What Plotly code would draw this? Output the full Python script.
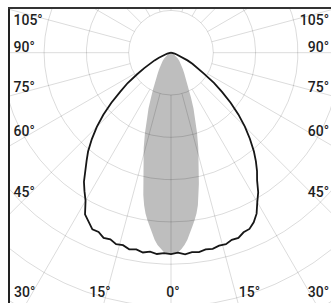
import numpy as np
import plotly.graph_objects as go

# ---- data (angle in degrees from nadir, intensity in cd) ----
black_angles = [-90, -85, -80, -75, -72.5, -70, -67.5, -65, -62.5, -60, -57.5, -55, -52.5, -50,
                -47.5, -45, -42.5, -40, -38, -36, -34, -32, -30, -28, -26, -24, -22, -20, -18,
                -16, -14, -12, -10, -8, -6, -4, -2, 0, 2, 4, 6, 8, 10, 12, 14, 16, 18, 20, 22,
                24, 26, 28, 30, 32, 34, 36, 38, 40, 42.5, 45, 47.5, 50, 52.5, 55, 57.5, 60,
                62.5, 65, 67.5, 70, 72.5, 75, 80, 85, 90]
black_values = [0, 2, 5, 9, 14, 21, 31, 43, 57, 73, 95, 125, 151, 184,
                217, 248, 277, 305, 324, 343, 368, 386, 404, 433, 445, 457, 457, 466, 464,
                471, 469, 475, 472, 477, 473, 477, 474, 476, 473, 478, 474, 476, 472, 474, 470, 471, 465, 466, 458,
                456, 446, 431, 408, 389, 364, 346, 326, 305, 276, 247, 216, 184, 152, 124, 93, 73,
                57, 43, 31, 21, 14, 9, 5, 2, 0]

grey_angles = [-90, -80, -70, -60, -55, -50, -45, -40, -36, -33, -30, -28, -26, -24, -22, -20,
               -18, -16, -14, -12, -11, -10, -9, -8, -7, -6, -5, -4, -3, -2, -1, 0,
               1, 2, 3, 4, 5, 6, 7, 8, 9, 10, 11, 12, 14, 16, 18, 20,
               22, 24, 26, 28, 30, 33, 36, 40, 45, 50, 55, 60, 70, 80, 90]
grey_values = [0, 2, 5, 9, 14, 21, 28, 38, 47, 57, 71, 83, 97, 116, 142, 165,
               199, 234, 269, 317, 343, 366, 385, 400, 414, 430, 444, 456, 465, 472, 474, 476,
               474, 472, 465, 456, 444, 430, 414, 400, 385, 366, 343, 317, 269, 234, 199, 165,
               142, 116, 97, 83, 71, 57, 47, 38, 28, 21, 14, 9, 5, 2, 0]

grid_radii = [100, 200, 300, 400, 500, 600, 700, 800]
spoke_angles = list(range(0, 360, 15))

left_labels = ["105°", "90°", "75°", "60°", "45°"]
right_labels = ["105°", "90°", "75°", "60°", "45°"]
bottom_labels = ["30°", "15°", "0°", "15°", "30°"]

# ---- geometry helpers ----
K = 100 / 42.3           # cd per pixel
CX, CY = 171, 52.7       # pole position in figure pixels


def to_xy(angles, values):
    a = np.radians(np.asarray(angles, dtype=float))
    r = np.asarray(values, dtype=float)
    return r * np.sin(a), -r * np.cos(a)


def px(x, y):
    """figure pixel -> data coordinates"""
    return (x - CX) * K, (CY - y) * K


fig = go.Figure()

# grey distribution (filled)
gx, gy = to_xy(grey_angles, grey_values)
fig.add_trace(go.Scatter(x=gx, y=gy, mode="lines", fill="toself",
                         fillcolor="rgb(190,190,190)", line=dict(width=0),
                         hoverinfo="skip"))

# grid circles
t = np.linspace(0, 360, 721)
for rr in grid_radii:
    cx, cy = to_xy(t, np.full_like(t, rr))
    fig.add_trace(go.Scatter(x=cx, y=cy, mode="lines",
                             line=dict(color="rgba(0,0,0,0.14)", width=1),
                             hoverinfo="skip"))
# spokes
for ang in spoke_angles:
    sx, sy = to_xy([ang, ang], [grid_radii[0], 1000])
    fig.add_trace(go.Scatter(x=sx, y=sy, mode="lines",
                             line=dict(color="rgba(0,0,0,0.14)", width=1),
                             hoverinfo="skip"))

# black distribution
bx, by = to_xy(black_angles, black_values)
fig.add_trace(go.Scatter(x=bx, y=by, mode="lines",
                         line=dict(color="#161616", width=1.8),
                         hoverinfo="skip"))

# labels (text traces so that the anchoring is exact)
font = dict(family="Roboto, Liberation Sans, Arial, sans-serif",
            size=14, color="#1e1e1e", weight=500)
label_y = [21, 48.5, 88.5, 132, 193.5]


def add_text(labels, xs, ys, pos):
    pts = [px(x, y) for x, y in zip(xs, ys)]
    fig.add_trace(go.Scatter(x=[p[0] for p in pts], y=[p[1] for p in pts],
                             mode="text", text=labels, textposition=pos,
                             textfont=font, cliponaxis=False, hoverinfo="skip"))


add_text(left_labels, [13.5] * 5, label_y, "middle right")
add_text(right_labels, [329] * 5, label_y, "middle left")
add_text(bottom_labels[:1], [14], [293], "middle right")
add_text(bottom_labels[1:4], [100, 173, 249.5], [293] * 3, "middle center")
add_text(bottom_labels[4:], [329], [293], "middle left")

W, H = 331, 303
ML, MT = 10, 9
xr = [(ML - CX) * K, (W - CX) * K]
yr = [(CY - H) * K, (CY - MT) * K]
fig.update_layout(
    width=W, height=H,
    margin=dict(l=ML, r=0, t=MT, b=0),
    paper_bgcolor="white", plot_bgcolor="white",
    showlegend=False,
    hovermode=False,
    xaxis=dict(range=xr, side="top", showline=True, linecolor="#333", linewidth=2,
               showgrid=False, zeroline=False, showticklabels=False, ticks="",
               fixedrange=True),
    yaxis=dict(range=yr, showline=True, linecolor="#222", linewidth=2,
               showgrid=False, zeroline=False, showticklabels=False, ticks="",
               fixedrange=True),
)

fig.write_html("out.html",
               config={"displayModeBar": False, "staticPlot": True},
               post_script="document.body.style.margin='0';"
                           "document.body.style.overflow='hidden';")
